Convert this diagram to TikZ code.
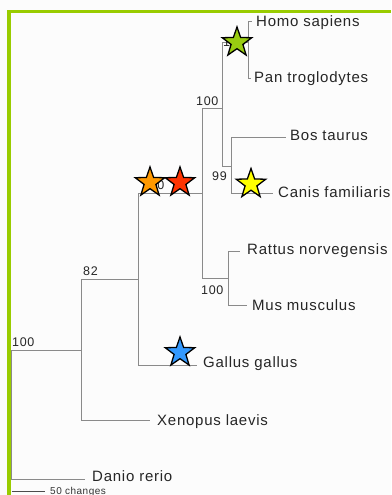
\documentclass[tikz,border=0pt]{standalone}
\usepackage{fontspec}
\setmainfont{Liberation Sans}[LetterSpace=5.0]
\usetikzlibrary{shapes.geometric}
\definecolor{frameGreen}{HTML}{99CC00}
\definecolor{branchGray}{HTML}{8A8A8A}
\definecolor{stGreen}{HTML}{99CC11}
\definecolor{stOrange}{HTML}{FF9900}
\definecolor{stRed}{HTML}{FF3300}
\definecolor{stYellow}{HTML}{FFFF00}
\definecolor{stBlue}{HTML}{3399FF}
\tikzset{
  branch/.style={draw=branchGray, line width=1pt},
  taxon/.style={anchor=base west, inner sep=0pt, font=\fontsize{15}{17}\selectfont, text=black!85},
  support/.style={anchor=base west, inner sep=0pt, font=\fontsize{12.5}{14}\selectfont, text=black!85},
  scaletext/.style={anchor=base west, inner sep=0pt, font=\fontsize{10}{12}\selectfont, text=black!80},
  marker/.style={star, star points=5, star point ratio=2.5, minimum size=31pt, inner sep=0pt, draw=black, line width=1.3pt, fill=#1},
}
\begin{document}
\begin{tikzpicture}[x=1pt, y=-1pt]
\useasboundingbox (0,0) rectangle (391,495);
\fill[white!99!black] (0,0) rectangle (391,495);
% frame
\draw[frameGreen, line width=3.5pt] (9,495) -- (9,11.5) -- (391,11.5);
% internal nodes
\coordinate (R) at (11.5,350);
\coordinate (A) at (81,350);
\coordinate (B) at (138,279);
\coordinate (C) at (202,193);
\coordinate (D) at (222,108);
\coordinate (P) at (248,43);
\coordinate (F) at (231,166);
\coordinate (E) at (228,278);
% leaf tips
\coordinate (tHomo) at (252,22);
\coordinate (tPan) at (251,78);
\coordinate (tBos) at (286,137);
\coordinate (tCanis) at (273,193);
\coordinate (tRattus) at (240,251);
\coordinate (tMus) at (247,305);
\coordinate (tGallus) at (197,365);
\coordinate (tXenopus) at (150,420);
\coordinate (tDanio) at (85,479);
% branches
\draw[branch] (R) |- (A);
\draw[branch] (R) |- (tDanio);
\draw[branch] (A) |- (B);
\draw[branch] (A) |- (tXenopus);
\draw[branch] (B) |- (C);
\draw[branch] (B) |- (tGallus);
\draw[branch] (C) |- (D);
\draw[branch] (C) |- (E);
\draw[branch] (D) |- (P);
\draw[branch] (D) |- (F);
\draw[branch] (P) |- (tHomo);
\draw[branch] (P) |- (tPan);
\draw[branch] (F) |- (tBos);
\draw[branch] (F) |- (tCanis);
\draw[branch] (E) |- (tRattus);
\draw[branch] (E) |- (tMus);
% taxon names
\node[taxon] (homo) at (256,27) {Homo sapiens};
\node[taxon] (pan) at (254,82) {Pan troglodytes};
\node[taxon] (bos) at (290,140) {Bos taurus};
\node[taxon] (canis) at (278,197) {Canis familiaris};
\node[taxon] (rattus) at (247,254) {Rattus norvegensis};
\node[taxon] (mus) at (252,310) {Mus musculus};
\node[taxon] (gallus) at (203,367) {Gallus gallus};
\node[taxon] (xenopus) at (157,425) {Xenopus laevis};
\node[taxon] (danio) at (92,481) {Danio rerio};
% support values
\node[support] (sA) at (12,346) {100};
\node[support] (sB) at (83,275) {82};
\node[support] (sC) at (142,189) {100};
\node[support] (sD) at (196,105) {100};
\node[support] (sF) at (212,180) {99};
\node[support] (sE) at (201,294) {100};
\node[support] (sP) at (223,47) {100};
% scale bar
\coordinate (sb1) at (11.5,491);
\coordinate (sb2) at (45,491);
\draw[branch, draw=black!70] (sb1) -- (sb2);
\node[scaletext] (sbt) at (50,494) {50 changes};
% stars
\node[marker=stGreen] (gStar) at (237,42.5) {};
\node[marker=stOrange] (oStar) at (150,182.5) {};
\node[marker=stRed] (rStar) at (180,182.5) {};
\node[marker=stYellow] (yStar) at (251,184) {};
\node[marker=stBlue] (bStar) at (180,352.5) {};
\end{tikzpicture}
\end{document}
